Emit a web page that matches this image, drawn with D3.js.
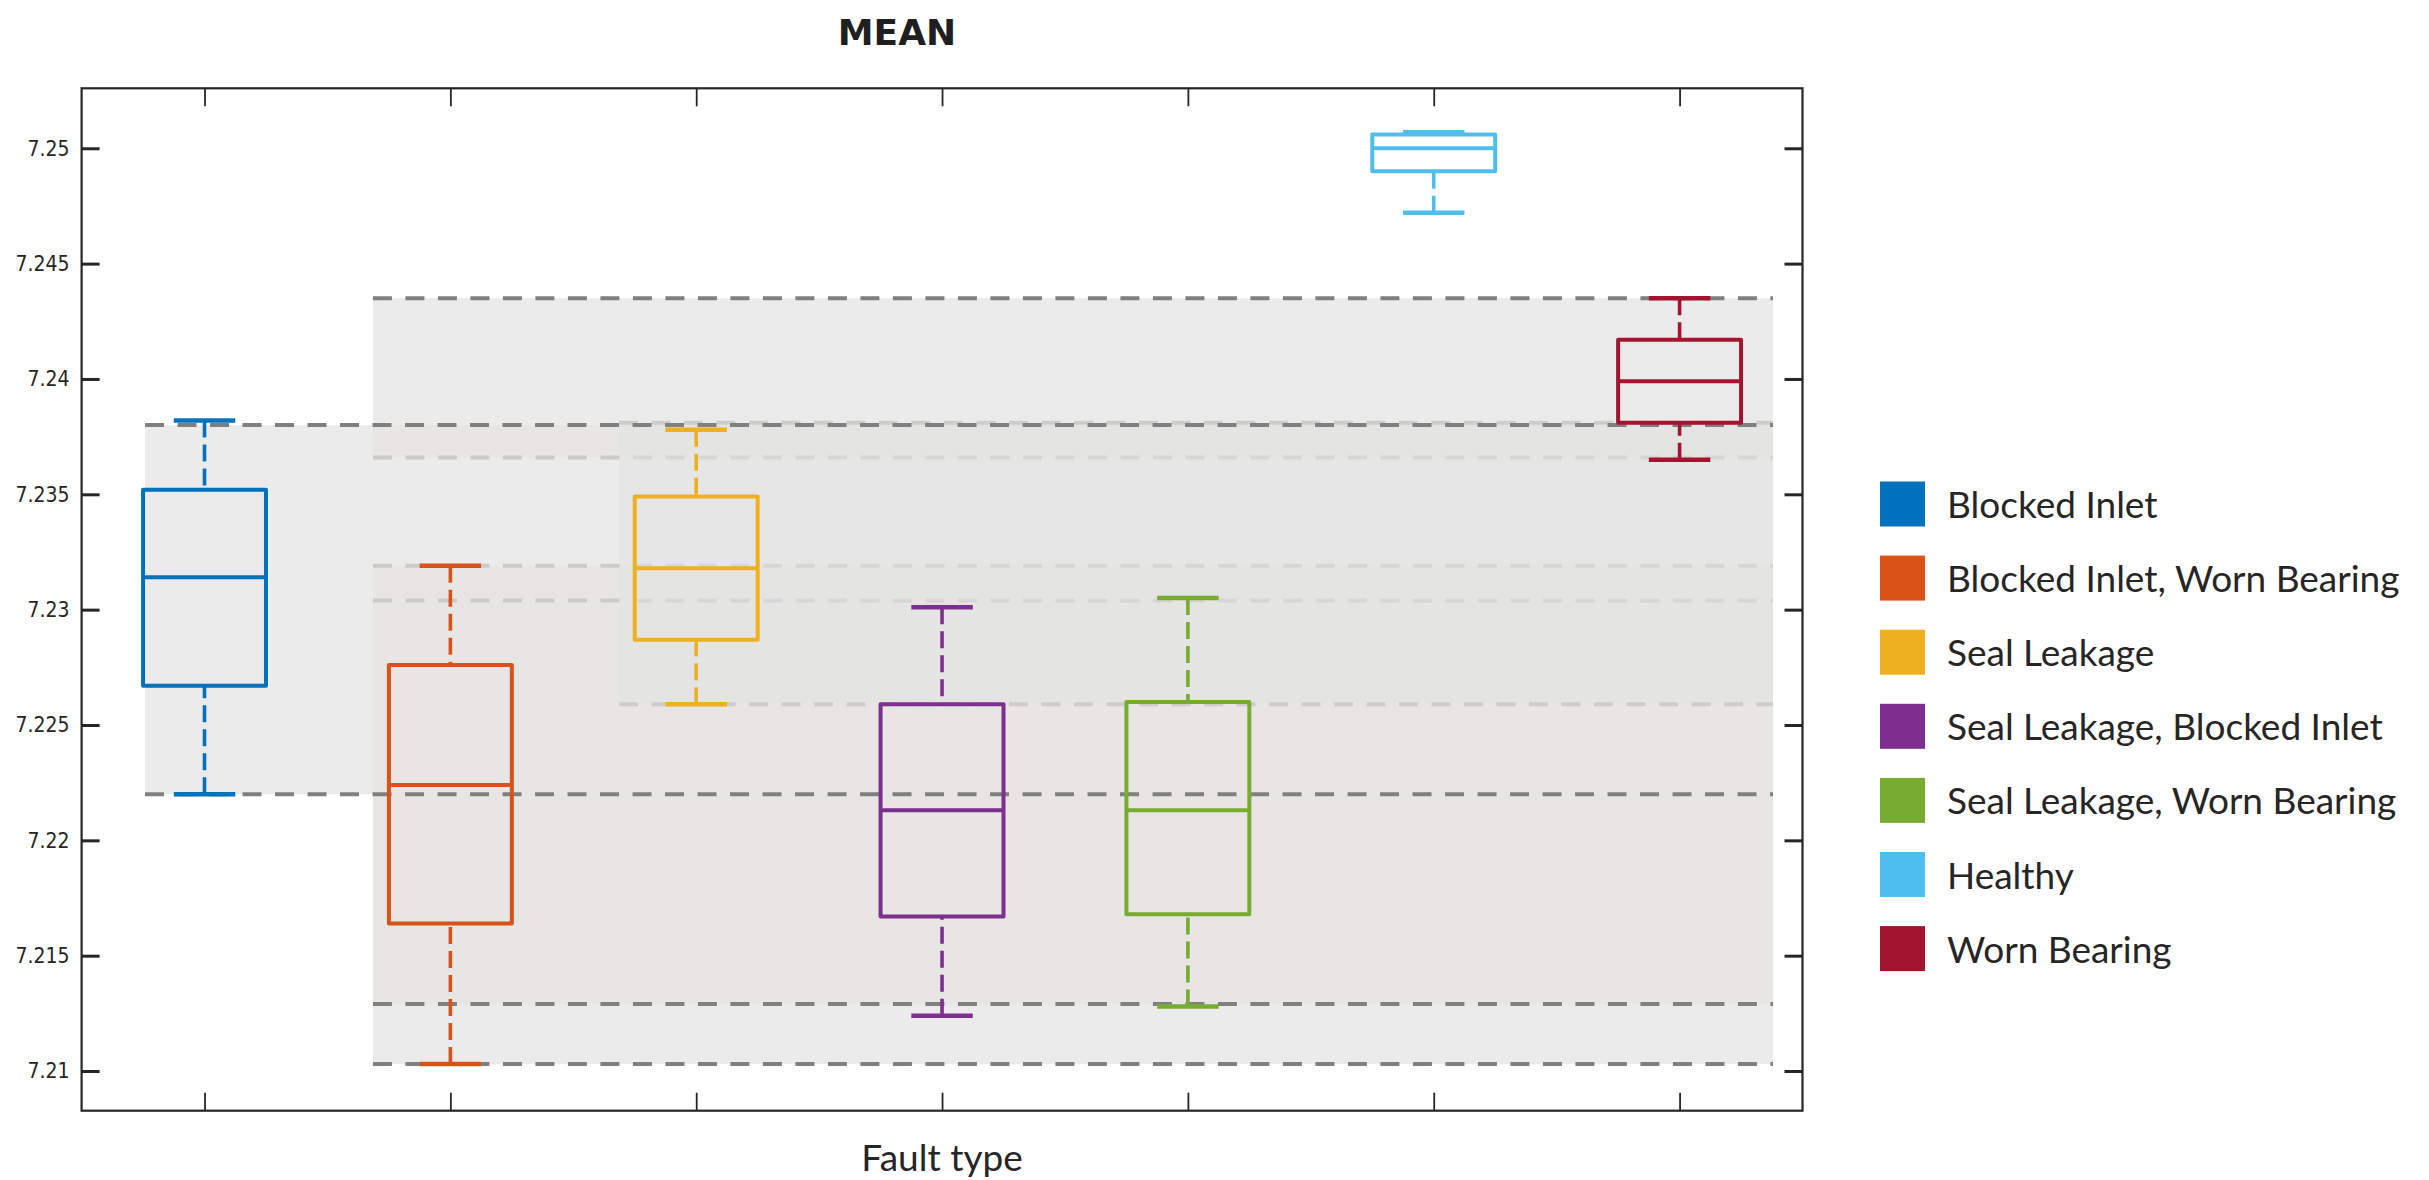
<!DOCTYPE html>
<html><head><meta charset="utf-8">
<script src="https://cdn.jsdelivr.net/npm/d3@7"></script>
<style>
body{margin:0;background:#fff;}
svg{display:block;}
</style>
</head><body>
<svg id="chart" width="2429" height="1180"></svg>
<script>
// ---------- data ----------
const categories = ["Blocked Inlet","Blocked Inlet, Worn Bearing","Seal Leakage","Seal Leakage, Blocked Inlet","Seal Leakage, Worn Bearing","Healthy","Worn Bearing"];
const colors = ["#0072BD","#D95319","#EDB120","#7E2F8E","#77AC30","#4DBEEE","#A2142F"];
const whiskerLow  = [7.2220, 7.2103, 7.2259, 7.2124, 7.2128, 7.2472, 7.2365];
const q1          = [7.2267, 7.2164, 7.2287, 7.2167, 7.2168, 7.2490, 7.2381];
const median      = [7.2314, 7.2224, 7.2318, 7.2213, 7.2213, 7.2500, 7.2399];
const q3          = [7.2352, 7.2276, 7.2349, 7.2259, 7.2260, 7.2506, 7.2417];
const whiskerHigh = [7.2382, 7.2319, 7.2378, 7.2301, 7.2305, 7.2507, 7.2435];

const yTicks = [7.21, 7.215, 7.22, 7.225, 7.23, 7.235, 7.24, 7.245, 7.25];
const yTickLabels = ["7.21","7.215","7.22","7.225","7.23","7.235","7.24","7.245","7.25"];
const xTicks = [1,2,3,4,5,6,7];
const yDomain = [7.20828, 7.2526];
const xDomain = [0.5, 7.5];

// shaded range bands (x in category units)
const shadeStart = [0.758, 1.685, 1.685, 1.685];
const shadeEnd   = [1.685, 7.38, 7.38, 7.38];
const shadeLow   = [7.2220, 7.2103, 7.2366, 7.2129];
const shadeHigh  = [7.2380, 7.2435, 7.2380, 7.2319];
const shadeTone  = ["light","light","dark","dark"];
// translucent overlay band
const overlayStart = [2.686];
const overlayEnd   = [7.38];
const overlayLow   = [7.2259];
const overlayHigh  = [7.2380];

// reference dashed lines
const lightRefLevel = [7.2366, 7.2319, 7.2304];
const lightRefStart = [1.685, 1.685, 1.685];
const lateRefLevel  = [7.2259, 7.2381];
const lateRefStart  = [2.686, 2.686];
const darkRefLevel  = [7.2435, 7.2380, 7.2220, 7.2129, 7.2103];
const darkRefStart  = [1.685, 0.758, 0.758, 1.685, 1.685];
const refEnd = 7.38;

// ---------- layout ----------
const svg = d3.select("#chart");
const L = 81.6, R = 1802.5, T = 88.3, B = 1110.7;
const x = d3.scaleLinear().domain(xDomain).range([L, R]);
const y = d3.scaleLinear().domain(yDomain).range([B, T]);
const ink = "#262626";

const g = svg.append("g");

// shading
const shadeFill = {light:"#ecebeb", dark:"#e7e6e5"};
g.selectAll("rect.shade").data(shadeStart.map((s,i)=>i)).enter().append("rect")
  .attr("class","shade")
  .attr("x", i=>x(shadeStart[i]))
  .attr("width", i=>x(shadeEnd[i])-x(shadeStart[i]))
  .attr("y", i=>y(shadeHigh[i]))
  .attr("height", i=>y(shadeLow[i])-y(shadeHigh[i]))
  .attr("fill", i=>shadeFill[shadeTone[i]]);

function dashLines(levels, starts, color, cls, width){
  g.selectAll("line."+cls).data(levels.map((v,i)=>i)).enter().append("line")
    .attr("class",cls)
    .attr("x1", i=>x(starts[i])).attr("x2", x(refEnd))
    .attr("y1", i=>y(levels[i])).attr("y2", i=>y(levels[i]))
    .attr("stroke", color).attr("stroke-width", width)
    .attr("stroke-dasharray","19,13.5");
}
dashLines(lightRefLevel, lightRefStart, "#cbcbcb", "lref", 4);

g.selectAll("rect.overlay").data(overlayStart.map((s,i)=>i)).enter().append("rect")
  .attr("class","overlay")
  .attr("x", i=>x(overlayStart[i]))
  .attr("width", i=>x(overlayEnd[i])-x(overlayStart[i]))
  .attr("y", i=>y(overlayHigh[i]))
  .attr("height", i=>y(overlayLow[i])-y(overlayHigh[i]))
  .attr("fill","#e2e2e1").attr("fill-opacity",0.5);

dashLines(lateRefLevel, lateRefStart, "#cdcdcd", "late", 4);
dashLines(darkRefLevel, darkRefStart, "#808080", "dref", 4);

// ---------- boxes ----------
const halfBox = 0.25, halfCap = 0.125;
const boxes = g.selectAll("g.box").data(categories.map((c,i)=>i)).enter().append("g").attr("class","box");

// whiskers (dashed, drawn from cap toward box)
boxes.append("line")
  .attr("x1", i=>x(i+1)).attr("x2", i=>x(i+1))
  .attr("y1", i=>y(whiskerHigh[i])).attr("y2", i=>y(q3[i]))
  .attr("stroke", i=>colors[i]).attr("stroke-width",3.6).attr("stroke-dasharray","17,7");
boxes.append("line")
  .attr("x1", i=>x(i+1)).attr("x2", i=>x(i+1))
  .attr("y1", i=>y(whiskerLow[i])).attr("y2", i=>y(q1[i]))
  .attr("stroke", i=>colors[i]).attr("stroke-width",3.6).attr("stroke-dasharray","17,7");
// caps
boxes.append("line")
  .attr("x1", i=>x(i+1-halfCap)).attr("x2", i=>x(i+1+halfCap))
  .attr("y1", i=>y(whiskerHigh[i])).attr("y2", i=>y(whiskerHigh[i]))
  .attr("stroke", i=>colors[i]).attr("stroke-width",4.5);
boxes.append("line")
  .attr("x1", i=>x(i+1-halfCap)).attr("x2", i=>x(i+1+halfCap))
  .attr("y1", i=>y(whiskerLow[i])).attr("y2", i=>y(whiskerLow[i]))
  .attr("stroke", i=>colors[i]).attr("stroke-width",4.5);
// box
boxes.append("rect")
  .attr("x", i=>x(i+1-halfBox))
  .attr("width", i=>x(i+1+halfBox)-x(i+1-halfBox))
  .attr("y", i=>y(q3[i]))
  .attr("height", i=>y(q1[i])-y(q3[i]))
  .attr("fill","none").attr("stroke", i=>colors[i]).attr("stroke-width",4)
  .attr("stroke-linejoin","round");
// median
boxes.append("line")
  .attr("x1", i=>x(i+1-halfBox)).attr("x2", i=>x(i+1+halfBox))
  .attr("y1", i=>y(median[i])).attr("y2", i=>y(median[i]))
  .attr("stroke", i=>colors[i]).attr("stroke-width",4);

// ---------- axes ----------
const tickFont = '"DejaVu Sans Condensed","DejaVu Sans",sans-serif';
const yLeft = svg.append("g").attr("transform",`translate(${L},0)`)
  .call(d3.axisLeft(y).tickValues(yTicks).tickSizeInner(-18).tickSizeOuter(0).tickPadding(12)
    .tickFormat((d,i)=>yTickLabels[i]));
const yRight = svg.append("g").attr("transform",`translate(${R},0)`)
  .call(d3.axisRight(y).tickValues(yTicks).tickSizeInner(-18).tickSizeOuter(0).tickFormat(""));
const xTop = svg.append("g").attr("transform",`translate(0,${T})`)
  .call(d3.axisTop(x).tickValues(xTicks).tickSizeInner(-18).tickSizeOuter(0).tickFormat(""));
const xBottom = svg.append("g").attr("transform",`translate(0,${B})`)
  .call(d3.axisBottom(x).tickValues(xTicks).tickSizeInner(-18).tickSizeOuter(0).tickFormat(""));

[yLeft,yRight,xTop,xBottom].forEach(a=>a.select(".domain").remove());
[yLeft,yRight].forEach(a=>a.selectAll(".tick line").attr("stroke",ink).attr("stroke-width",3));
[xTop,xBottom].forEach(a=>a.selectAll(".tick line").attr("stroke",ink).attr("stroke-width",1.8));
yLeft.selectAll(".tick text").attr("fill",ink).style("font-family",tickFont)
  .style("font-stretch","condensed").style("font-size","21px");

svg.append("rect").attr("x",L).attr("y",T).attr("width",R-L).attr("height",B-T)
  .attr("fill","none").attr("stroke",ink).attr("stroke-width",2.2);

// ---------- titles ----------
svg.append("text").attr("x",897).attr("y",45).attr("text-anchor","middle")
  .style("font-family",'"DejaVu Sans",sans-serif').style("font-weight","bold")
  .style("font-size","36px").attr("fill","#1f1f1f").text("MEAN");
svg.append("text").attr("x",(L+R)/2).attr("y",1171).attr("text-anchor","middle")
  .style("font-family",'Lato,sans-serif').style("font-size","37px")
  .attr("fill",ink).text("Fault type");

// ---------- legend ----------
const legend = svg.append("g");
const leg = legend.selectAll("g").data(categories.map((c,i)=>i)).enter().append("g")
  .attr("transform", i=>`translate(1880,${504 + i*74.1})`);
leg.append("rect").attr("x",0).attr("y",-22.5).attr("width",45).attr("height",45)
  .attr("fill", i=>colors[i]);
leg.append("text").attr("x",67).attr("y",14)
  .style("font-family",'Lato,sans-serif').style("font-size","37px")
  .attr("fill",ink).text(i=>categories[i]);
</script>
</body></html>
